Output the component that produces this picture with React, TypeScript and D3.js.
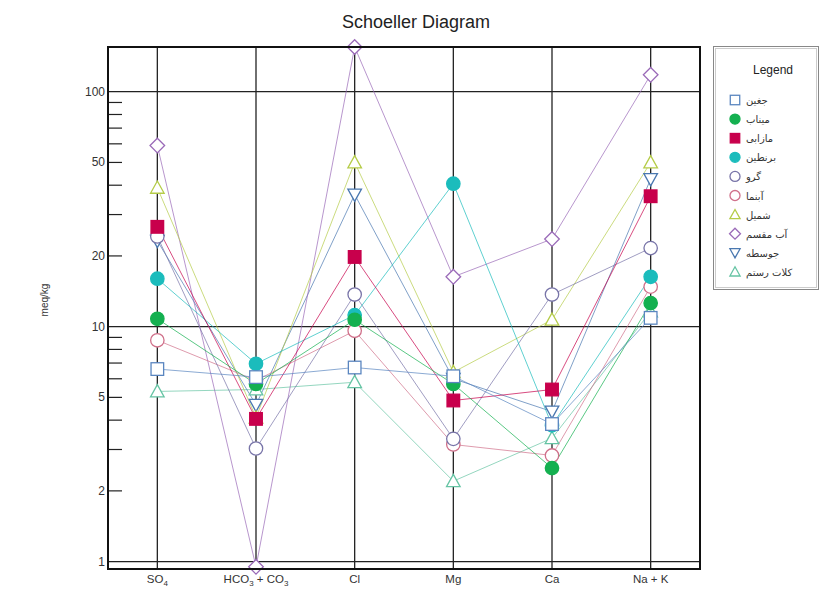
import React from "react";
import * as d3 from "d3";

const categories = ["SO4", "HCO3 + CO3", "Cl", "Mg", "Ca", "Na + K"];
const seriesNames = ["جغین", "میناب", "مازابی", "برنطین", "گرو", "آبنما", "شمیل", "آب مقسم", "جوسطه", "کلات رستم"];
const jaghin = [6.6, 6.1, 6.7, 6.15, 3.85, 10.9];
const minab = [10.8, 5.7, 10.7, 5.7, 2.5, 12.6];
const mazabi = [26.6, 4.05, 19.8, 4.85, 5.4, 35.9];
const barantin = [16.0, 6.95, 11.2, 40.6, 3.8, 16.3];
const garu = [24.2, 3.03, 13.7, 3.33, 13.7, 21.6];
const abnama = [8.75, 5.9, 9.6, 3.15, 2.83, 14.8];
const shamil = [39, 4.1, 50, 6.4, 10.7, 50];
const abMaghsam = [59, 0.95, 155, 16.3, 23.6, 118];
const jusateh = [23.2, 4.65, 36.5, 6.0, 4.35, 42.5];
const kalatRostam = [5.3, 5.4, 5.8, 2.2, 3.35, 11.6];
const yTickLabels = [100, 50, 20, 10, 5, 2, 1];
const yMinorTicks = [90, 80, 70, 60, 50, 40, 30, 20, 9, 8, 7, 6, 5, 4, 3, 2];

const seriesValues = [jaghin, minab, mazabi, barantin, garu, abnama, shamil, abMaghsam, jusateh, kalatRostam];
const styles = [
  { color: "#5a86c0", shape: "square", fill: false },
  { color: "#14b050", shape: "circle", fill: true },
  { color: "#c8004c", shape: "square", fill: true },
  { color: "#1bbcbc", shape: "circle", fill: true },
  { color: "#7874a8", shape: "circle", fill: false },
  { color: "#d0708a", shape: "circle", fill: false },
  { color: "#b5cc48", shape: "triangle", fill: false },
  { color: "#9a6ab8", shape: "diamond", fill: false },
  { color: "#4a78b0", shape: "triangleDown", fill: false },
  { color: "#66c4a4", shape: "triangle", fill: false },
];

const L = 108, R = 700, T = 47, B = 569;
const font = "Arial, 'Liberation Sans', sans-serif";

function Marker({ x, y, shape, color, fill, s = 1 }: any) {
  const fc = fill ? color : "white";
  const sw = 1.3;
  if (shape === "circle") return <circle cx={x} cy={y} r={6.7 * s} fill={fc} stroke={color} strokeWidth={sw} />;
  if (shape === "square") return <rect x={x - 6.3 * s} y={y - 6.3 * s} width={12.6 * s} height={12.6 * s} fill={fc} stroke={color} strokeWidth={sw} />;
  if (shape === "diamond") {
    const d = 7.3 * s;
    return <path d={`M${x},${y - d}L${x + d},${y}L${x},${y + d}L${x - d},${y}Z`} fill={fc} stroke={color} strokeWidth={sw} />;
  }
  if (shape === "triangle") {
    const h = 6.8 * s;
    return <path d={`M${x},${y - h}L${x + h},${y + h * 0.8}L${x - h},${y + h * 0.8}Z`} fill={fc} stroke={color} strokeWidth={sw} />;
  }
  const h = 6.8 * s;
  return <path d={`M${x},${y + h}L${x + h},${y - h * 0.8}L${x - h},${y - h * 0.8}Z`} fill={fc} stroke={color} strokeWidth={sw} />;
}

function XLabel({ label, x }: any) {
  const sub = (t: string) => <tspan fontSize={8} dy={3}>{t}</tspan>;
  const up = (t: string) => <tspan dy={-3}>{t}</tspan>;
  if (label === "SO4") return <text x={x} y={583} textAnchor="middle">SO{sub("4")}</text>;
  if (label === "HCO3 + CO3") return <text x={x} y={583} textAnchor="middle">HCO{sub("3")}{up(" + CO")}{sub("3")}</text>;
  return <text x={x} y={583} textAnchor="middle">{label}</text>;
}

export default function App() {
  const x = d3.scalePoint<string>().domain(categories).range([L, R]).padding(0.5);
  const y = d3.scaleLog().domain([0.93, 155]).range([B, T]);
  const line = d3.line<number>().x((_, i) => x(categories[i])!).y((v) => y(v));
  const order = [9, 8, 7, 6, 5, 4, 3, 2, 1, 0];
  return (
    <svg width={821} height={590} style={{ position: "absolute", left: 0, top: 0, background: "white" }} fontFamily={font}>
      <rect x={0} y={0} width={821} height={590} fill="white" />
      <text x={416} y={28} textAnchor="middle" fontSize={18} fill="#222">Schoeller Diagram</text>
      <text transform={`translate(48,300) rotate(-90)`} textAnchor="middle" fontSize={10} fill="#333">meq/kg</text>
      {categories.map((c) => (
        <line key={c} x1={x(c)} x2={x(c)} y1={T} y2={B} stroke="#222" strokeWidth={1.3} />
      ))}
      {[100, 10, 1].map((v) => (
        <line key={v} x1={L} x2={R} y1={y(v)} y2={y(v)} stroke="#222" strokeWidth={1.3} />
      ))}
      {yMinorTicks.map((v) => (
        <line key={v} x1={L} x2={L + 14} y1={y(v)} y2={y(v)} stroke="#222" strokeWidth={1.2} />
      ))}
      <g fontSize={12} fill="#333" textAnchor="end">
        {yTickLabels.map((v) => (
          <text key={v} x={105} y={y(v) + 4}>{v}</text>
        ))}
      </g>
      <g fontSize={11.5} fill="#333">
        {categories.map((c) => <XLabel key={c} label={c} x={x(c)} />)}
      </g>
      {order.map((i) => (
        <path key={"l" + i} d={line(seriesValues[i])!} fill="none" stroke={styles[i].color} strokeWidth={1} strokeOpacity={0.7} />
      ))}
      {order.map((i) => (
        <g key={"m" + i}>
          {seriesValues[i].map((v, j) => (
            <Marker key={j} x={x(categories[j])} y={y(v)} {...styles[i]} />
          ))}
        </g>
      ))}
      <rect x={L} y={T} width={R - L} height={B - T} fill="none" stroke="#111" strokeWidth={2} />
      <rect x={713.5} y={46.5} width={105} height={243} fill="white" stroke="#888" strokeWidth={1} />
      <rect x={715.5} y={48.5} width={101} height={239} fill="none" stroke="#ccc" strokeWidth={1} />
      <text x={773} y={74} textAnchor="middle" fontSize={12} fill="#222">Legend</text>
      {seriesNames.map((n, i) => (
        <g key={n}>
          <Marker x={735} y={100 + i * 19.1} {...styles[i]} s={0.75} />
          <text x={746} y={104 + i * 19.1} fontSize={10} fill="#333" fontFamily="'DejaVu Sans', 'Noto Sans', sans-serif">{n}</text>
        </g>
      ))}
    </svg>
  );
}
